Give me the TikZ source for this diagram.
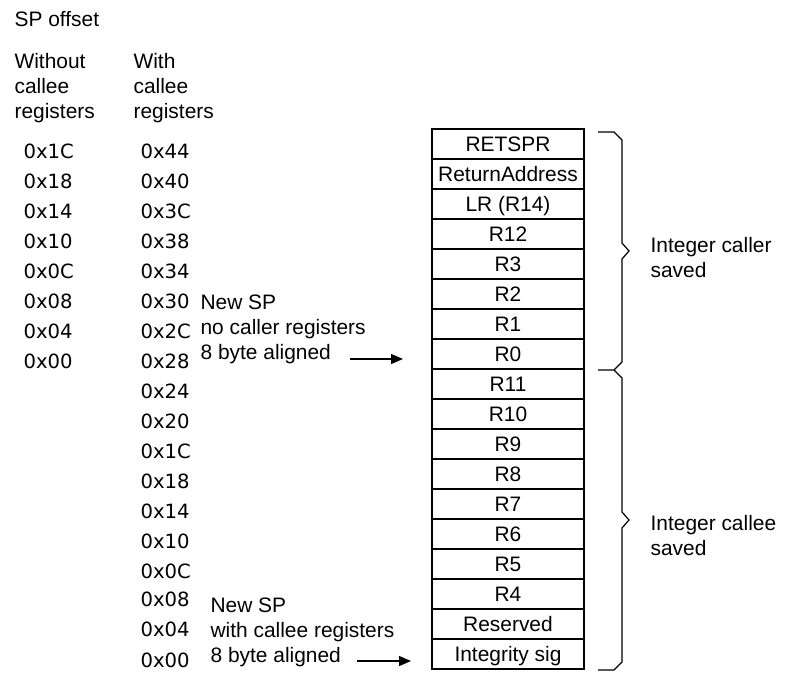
\documentclass[tikz,border=0pt]{standalone}
\usepackage{fontspec}
\setmainfont{Liberation Sans}
\newfontfamily\hexfont{DejaVu Sans}
\usetikzlibrary{arrows.meta}

\begin{document}
\begin{tikzpicture}[x=1bp,y=-1bp,line width=1.2bp]

        \useasboundingbox (0,0) rectangle (792,675);

        % headings and notes
        \begin{scope}[every node/.style={anchor=north west,inner sep=0pt,align=left,
            font=\fontsize{21}{25}\selectfont}]
          \node (spoff)   at (14,10.5)  {SP offset};
          \node (without) at (14,52.5)  {Without\\callee\\registers};
          \node (with)    at (133,52.5) {With\\callee\\registers};
          \node (nosp)    at (200,294.5) {New SP\\no caller registers\\8 byte aligned};
          \node (calsp)   at (210,597.5) {New SP\\with callee registers\\8 byte aligned};
          \node (caller)  at (650,236.5) {Integer caller\\saved};
          \node (callee)  at (650,514.5) {Integer callee\\saved};
        \end{scope}

        % offsets
        \begin{scope}[every node/.style={anchor=west,inner sep=0pt,text height=14.4bp,
            text depth=0bp,font=\hexfont\fontsize{19.7}{24}\selectfont}]
          \node (wo1C) at (23,151) {0x1C};
          \node (wo18) at (23,181) {0x18};
          \node (wo14) at (23,211) {0x14};
          \node (wo10) at (23,241) {0x10};
          \node (wo0C) at (23,271) {0x0C};
          \node (wo08) at (23,301) {0x08};
          \node (wo04) at (23,331) {0x04};
          \node (wo00) at (23,361) {0x00};

          \node (w44) at (140,151) {0x44};
          \node (w40) at (140,181) {0x40};
          \node (w3C) at (140,211) {0x3C};
          \node (w38) at (140,241) {0x38};
          \node (w34) at (140,271) {0x34};
          \node (w30) at (140,301) {0x30};
          \node (w2C) at (140,331) {0x2C};
          \node (w28) at (140,361) {0x28};
          \node (w24) at (140,391) {0x24};
          \node (w20) at (140,421) {0x20};
          \node (w1C) at (140,451) {0x1C};
          \node (w18) at (140,481) {0x18};
          \node (w14) at (140,511) {0x14};
          \node (w10) at (140,541) {0x10};
          \node (w0C) at (140,571) {0x0C};
          \node (w08) at (140,599) {0x08};
          \node (w04) at (140,629) {0x04};
          \node (w00) at (140,660) {0x00};
        \end{scope}

        % stack frame
        \begin{scope}[every node/.style={draw,minimum width=152bp,minimum height=30bp,
            inner sep=0pt,text height=15bp,text depth=0bp,
            font=\fontsize{21}{25}\selectfont}]
          \node (retspr) at (508,144) {RETSPR};
          \node (retadr) at (508,174) {ReturnAddress};
          \node (lr)     at (508,204) {LR (R14)};
          \node (r12)    at (508,234) {R12};
          \node (r3)     at (508,264) {R3};
          \node (r2)     at (508,294) {R2};
          \node (r1)     at (508,324) {R1};
          \node (r0)     at (508,354) {R0};
          \node (r11)    at (508,384) {R11};
          \node (r10)    at (508,414) {R10};
          \node (r9)     at (508,444) {R9};
          \node (r8)     at (508,474) {R8};
          \node (r7)     at (508,504) {R7};
          \node (r6)     at (508,534) {R6};
          \node (r5)     at (508,564) {R5};
          \node (r4)     at (508,594) {R4};
          \node (resv)   at (508,624) {Reserved};
          \node (isig)   at (508,654) {Integrity sig};
        \end{scope}

        % braces
        \draw (598,132) -- (614,132) -- (622,140) -- (622,243) -- (629,251)
          -- (622,259) -- (622,362) -- (614,370) -- (598,370);
        \draw (614,370) -- (622,378) -- (622,512) -- (629,520)
          -- (622,528) -- (622,662) -- (614,670) -- (598,670);

        % arrows
        \coordinate (nospa) at (350,359);
        \coordinate (nospb) at (403,359);
        \coordinate (calspa) at (357,661);
        \coordinate (calspb) at (411,661);
        \begin{scope}[every path/.style={-{Triangle[length=12bp,width=10bp]}}]
          \draw (nospa) -- (nospb);
          \draw (calspa) -- (calspb);
        \end{scope}

      \end{tikzpicture}
\end{document}
